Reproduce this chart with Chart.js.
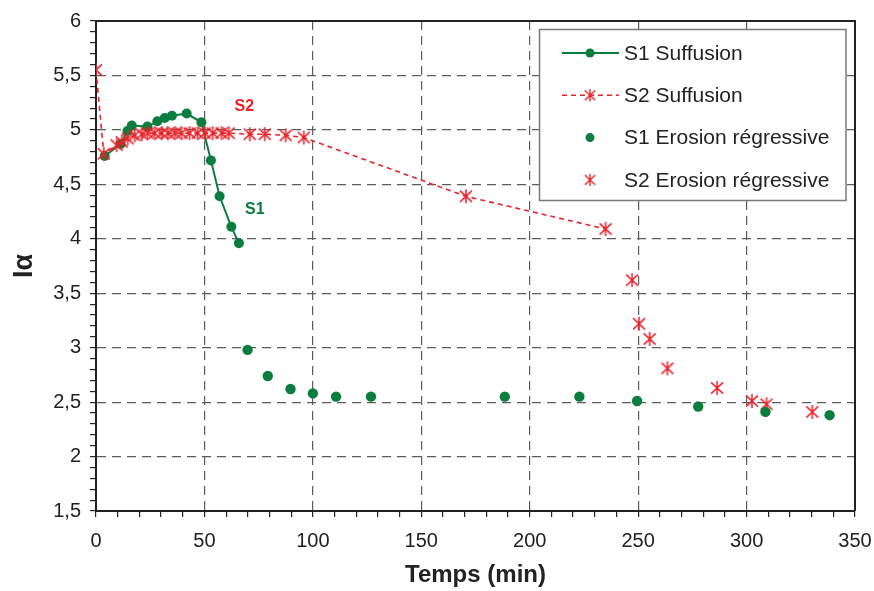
<!DOCTYPE html>
<html>
<head>
<meta charset="utf-8">
<title>I alpha vs temps</title>
<script src="https://cdn.jsdelivr.net/npm/chart.js@4.4.1/dist/chart.umd.min.js"></script>
<style>
  html, body { margin: 0; padding: 0; background: #fff; }
</style>
</head>
<body>
<canvas id="iaChart" width="874" height="591"></canvas>
<script>
// Data ----------------------------------------------------------------------->
const seriesNames = ['S1 Suffusion', 'S2 Suffusion', 'S1 Erosion régressive', 'S2 Erosion régressive'];

const s1SuffTime = [4.0, 11.4, 14.5, 16.5, 23.7, 28.3, 31.7, 35.0, 41.8, 48.6, 53.0, 57.0, 62.4, 65.9];
const s1SuffIa   = [4.76, 4.87, 4.99, 5.04, 5.03, 5.08, 5.11, 5.13, 5.15, 5.07, 4.72, 4.39, 4.11, 3.96];

const s2SuffTime = [0, 3.6, 9.5, 11.9, 14.6, 17.8, 21.1, 23.8, 27.1, 30.3, 33.1, 36.3, 39.5, 43.2,
                    46.9, 50.1, 53.8, 57.9, 61.2, 70.9, 77.8, 87.5, 95.8, 170.6, 235.0];
const s2SuffIa   = [5.55, 4.78, 4.86, 4.89, 4.92, 4.95, 4.96, 4.97, 4.97, 4.97, 4.97, 4.97, 4.97, 4.97,
                    4.97, 4.97, 4.97, 4.97, 4.97, 4.96, 4.96, 4.95, 4.93, 4.39, 4.09];

const s1ErosTime = [69.9, 79.2, 89.7, 100.0, 110.7, 126.8, 188.5, 222.9, 249.5, 277.7, 308.7, 338.3];
const s1ErosIa   = [2.98, 2.74, 2.62, 2.58, 2.55, 2.55, 2.55, 2.55, 2.51, 2.46, 2.41, 2.38];

const s2ErosTime = [247.2, 250.4, 255.3, 263.5, 286.4, 302.5, 309.2, 330.3];
const s2ErosIa   = [3.62, 3.22, 3.08, 2.81, 2.63, 2.51, 2.48, 2.41];

// curve labels written inside the plot
const noteText = ['S2', 'S1'];
const noteTime = [68.4, 73.2];
const noteIa   = [5.21, 4.27];

const xMin = 0, xMax = 350, xMajor = 50, xMinor = 10;
const yMin = 1.5, yMax = 6, yMajor = 0.5, yMinor = 0.1;

// Styles --------------------------------------------------------------------->
const GREEN = '#0b7d3e';
const RED = '#ea2229';
const FONT = '"Liberation Sans", Arial, sans-serif';

function toPoints(xs, ys) {
    return xs.map((x, i) => ({ x: x, y: ys[i] }));
}

// asterisk marker (X with a vertical bar) like the original
function makeStar(color, size) {
    const c = document.createElement('canvas');
    c.width = size; c.height = size;
    const g = c.getContext('2d');
    const m = size / 2, r = size / 2 - 1;
    g.strokeStyle = color;
    g.lineWidth = 1.5;
    g.beginPath();
    g.moveTo(m - r * 0.85, m - r * 0.8); g.lineTo(m + r * 0.85, m + r * 0.8);
    g.moveTo(m + r * 0.85, m - r * 0.8); g.lineTo(m - r * 0.85, m + r * 0.8);
    g.moveTo(m, m - r); g.lineTo(m, m + r);
    g.stroke();
    return c;
}
const redStar = makeStar(RED, 16);

function isMultiple(v, step) {
    const q = v / step;
    return Math.abs(q - Math.round(q)) < 1e-6;
}

// Plugins -------------------------------------------------------------------->
const framePlugin = {
    id: 'frame',
    afterDraw(chart) {
        const { ctx, chartArea: a } = chart;
        ctx.save();
        ctx.strokeStyle = '#222';
        ctx.lineWidth = 2;
        ctx.beginPath();
        ctx.moveTo(a.left, a.top);
        ctx.lineTo(a.right, a.top);
        ctx.lineTo(a.right, a.bottom);
        ctx.stroke();
        ctx.restore();
    }
};

const notePlugin = {
    id: 'notes',
    afterDatasetsDraw(chart) {
        const { ctx, scales } = chart;
        ctx.save();
        ctx.font = 'bold 16px ' + FONT;
        ctx.textAlign = 'center';
        ctx.textBaseline = 'middle';
        noteText.forEach((t, i) => {
            ctx.fillStyle = t === 'S1' ? GREEN : RED;
            ctx.fillText(t, scales.x.getPixelForValue(noteTime[i]), scales.y.getPixelForValue(noteIa[i]));
        });
        ctx.restore();
    }
};

const boxLegendPlugin = {
    id: 'boxLegend',
    afterDraw(chart) {
        const ctx = chart.ctx;
        const box = { left: 539.5, top: 29.5, right: 846, bottom: 200.5 };
        ctx.save();
        ctx.fillStyle = '#fff';
        ctx.fillRect(box.left, box.top, box.right - box.left, box.bottom - box.top);
        ctx.strokeStyle = '#7a7a7a';
        ctx.lineWidth = 1.5;
        ctx.strokeRect(box.left, box.top, box.right - box.left, box.bottom - box.top);

        chart.data.datasets.forEach((ds, i) => {
            const y = box.top + 23.5 + i * 42.3;
            if (ds.showLine) {
                ctx.strokeStyle = ds.borderColor;
                ctx.lineWidth = ds.borderWidth;
                ctx.setLineDash(ds.borderDash || []);
                ctx.beginPath();
                ctx.moveTo(562, y);
                ctx.lineTo(619, y);
                ctx.stroke();
                ctx.setLineDash([]);
            }
            if (ds.pointStyle === 'circle') {
                ctx.fillStyle = ds.pointBackgroundColor;
                ctx.beginPath();
                ctx.arc(590, y, 4.5, 0, Math.PI * 2);
                ctx.fill();
            } else {
                ctx.drawImage(ds.pointStyle, 590 - 7, y - 7, 14, 14);
            }
            ctx.fillStyle = '#222';
            ctx.font = '21px ' + FONT;
            ctx.textAlign = 'left';
            ctx.textBaseline = 'middle';
            ctx.fillText(ds.label, 624, y + 1);
        });
        ctx.restore();
    }
};

// Chart ---------------------------------------------------------------------->
const ctx = document.getElementById('iaChart').getContext('2d');

new Chart(ctx, {
    type: 'scatter',
    data: {
        datasets: [
            {
                label: seriesNames[0],
                data: toPoints(s1SuffTime, s1SuffIa),
                showLine: true,
                borderColor: GREEN,
                borderWidth: 2,
                pointStyle: 'circle',
                pointRadius: 5,
                pointBackgroundColor: GREEN,
                pointBorderColor: GREEN,
                pointBorderWidth: 0,
                order: 2
            },
            {
                label: seriesNames[1],
                data: toPoints(s2SuffTime, s2SuffIa),
                showLine: true,
                borderColor: RED,
                borderWidth: 1.6,
                borderDash: [5, 4],
                pointStyle: redStar,
                pointRadius: 6,
                order: 1
            },
            {
                label: seriesNames[2],
                data: toPoints(s1ErosTime, s1ErosIa),
                showLine: false,
                borderColor: GREEN,
                pointStyle: 'circle',
                pointRadius: 5.2,
                pointBackgroundColor: GREEN,
                pointBorderColor: GREEN,
                pointBorderWidth: 0,
                order: 3
            },
            {
                label: seriesNames[3],
                data: toPoints(s2ErosTime, s2ErosIa),
                showLine: false,
                borderColor: RED,
                pointStyle: redStar,
                pointRadius: 6,
                order: 4
            }
        ]
    },
    options: {
        responsive: false,
        animation: false,
        layout: { padding: { top: 21, right: 19, left: 0, bottom: 0 } },
        plugins: {
            legend: { display: false },
            tooltip: { enabled: false }
        },
        scales: {
            x: {
                type: 'linear',
                min: xMin,
                max: xMax,
                afterFit(scale) {
                    scale.height = 80;
                    scale.paddingRight = 0;
                    scale.paddingLeft = 0;
                },
                ticks: {
                    stepSize: xMinor,
                    autoSkip: false,
                    maxRotation: 0,
                    padding: 12,
                    color: '#222',
                    font: { family: FONT, size: 20 },
                    callback: (v) => isMultiple(v, xMajor) ? String(v) : ''
                },
                grid: {
                    color: (c) => {
                        const v = c.tick ? c.tick.value : null;
                        return v !== null && isMultiple(v, xMajor) && v > xMin && v < xMax ? '#5c5c5c' : 'transparent';
                    },
                    lineWidth: 1.2,
                    tickColor: '#222',
                    tickLength: 6,
                    tickWidth: 1.2
                },
                border: { display: true, color: '#222', width: 2, dash: [9, 6] },
                title: {
                    display: true,
                    text: 'Temps (min)',
                    color: '#222',
                    font: { family: FONT, size: 24, weight: 'bold' },
                    padding: { top: 0, bottom: 1 }
                }
            },
            y: {
                type: 'linear',
                min: yMin,
                max: yMax,
                afterFit(scale) { scale.width = 96; },
                ticks: {
                    stepSize: yMinor,
                    autoSkip: false,
                    padding: 9,
                    color: '#222',
                    font: { family: FONT, size: 20 },
                    callback: (v) => isMultiple(v, yMajor) ? String(Math.round(v * 10) / 10).replace('.', ',') : ''
                },
                grid: {
                    color: (c) => {
                        const v = c.tick ? c.tick.value : null;
                        return v !== null && isMultiple(v, yMajor) && v > yMin + 1e-6 && v < yMax - 1e-6 ? '#5c5c5c' : 'transparent';
                    },
                    lineWidth: 1.2,
                    tickColor: '#222',
                    tickLength: 6,
                    tickWidth: 1.2
                },
                border: { display: true, color: '#222', width: 2, dash: [9, 6] },
                title: {
                    display: true,
                    text: 'Iα',
                    color: '#222',
                    font: { family: FONT, size: 27, weight: 'bold' },
                    padding: { top: 8, bottom: 0 }
                }
            }
        }
    },
    plugins: [framePlugin, notePlugin, boxLegendPlugin]
});
</script>
</body>
</html>
